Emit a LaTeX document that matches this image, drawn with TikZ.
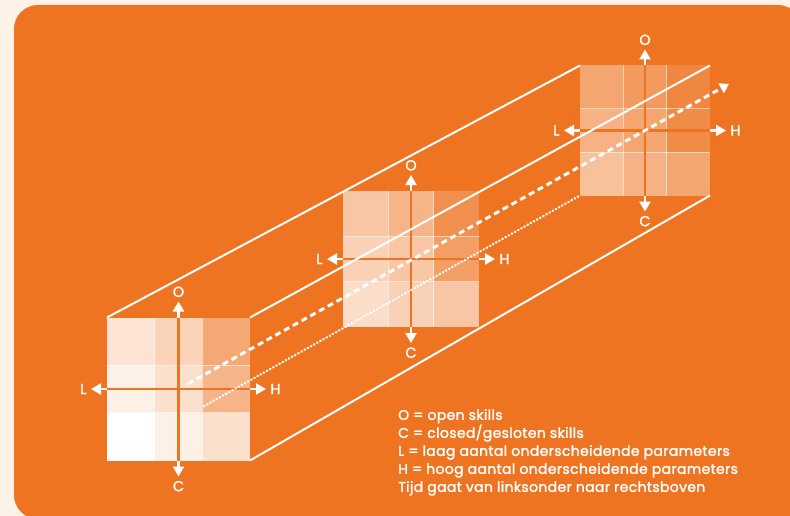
\documentclass[tikz,border=0pt]{standalone}
\usepackage{fontspec}
\setmainfont{Poppins}[FakeBold=1.8, LetterSpace=2.5]
\usepackage{tikz}
\usetikzlibrary{arrows.meta, positioning, calc}
\definecolor{skillOrange}{HTML}{EE7421}
\definecolor{paperCream}{HTML}{FCF2E8}
\tikzset{
    gridBox/.style={rectangle, inner sep=0pt, outer sep=0pt},
    gridLine/.style={white, opacity=0.55, line width=0.8pt},
    axisArrow/.style={-{Triangle[length=10pt, width=11pt]}, white, line width=2.4pt},
    axisIn/.style={skillOrange, line width=2.4pt},
    axLbl/.style={text=white, inner sep=0pt, outer sep=4.5pt, font=\fontsize{14.5}{14.5}\selectfont},
    boxEdge/.style={white, line width=2pt},
    hiddenEdge/.style={white, line width=2.3pt, line cap=round, dash pattern=on 0.6pt off 3pt},
    timeLine/.style={white, line width=3pt, dash pattern=on 6pt off 4pt},
    legend/.style={text=white, align=left, inner sep=0pt, font=\fontsize{14}{18}\selectfont}
}

% one O/C/L/H square: name, centre, size, shades of the nine cells (top row first)
\newcommand{\skillgrid}[4]{%
    \node[gridBox, minimum size=#3] (#1) at (#2) {};
    \foreach \p [count=\k from 0] in {#4} {
        \pgfmathsetmacro{\gx}{mod(\k,3)*#3/3}
        \pgfmathsetmacro{\gy}{int(\k/3)*#3/3}
        \fill[skillOrange!\p!white] ([shift={(\gx,\gy)}]#1.north west) rectangle ++(#3/3,#3/3);
    }
    \foreach \t in {1,2} {
        \draw[gridLine] ([xshift=\t*#3/3]#1.north west) -- ([xshift=\t*#3/3]#1.south west);
        \draw[gridLine] ([yshift=-\t*#3/3]#1.north west) -- ([yshift=-\t*#3/3]#1.north east);
    }
}
\newcommand{\skillaxes}[1]{%
    \node[axLbl, above=16pt of #1.north] (#1O) {O};
    \node[axLbl, below=16pt of #1.south] (#1C) {C};
    \node[axLbl, left=16pt of #1.west] (#1L) {L};
    \node[axLbl, right=16pt of #1.east] (#1H) {H};
    \draw[axisArrow] (#1.center) -- (#1O);
    \draw[axisArrow] (#1.center) -- (#1C);
    \draw[axisArrow] (#1.center) -- (#1L);
    \draw[axisArrow] (#1.center) -- (#1H);
    \draw[axisIn] (#1.north) -- (#1.south);
    \draw[axisIn] (#1.west) -- (#1.east);
}

\begin{document}
\begin{tikzpicture}[x=1pt, y=-1pt]
    \useasboundingbox (0,0) rectangle (790,516);
    \fill[paperCream] (0,0) rectangle (790,516);
    \fill[skillOrange, rounded corners=24pt] (14,5) rectangle (802,519);

    \skillgrid{b}{645,130.5}{130}{64,72,86, 55,64,83, 45,55,64}
    \skillgrid{m}{411,259}{136}{41,53,80, 33,41,70, 24,33,41}
    \skillgrid{f}{178.5,389}{143}{20,32,63, 11,22,53, 0,11,22}
    \skillaxes{b}
    \skillaxes{m}
    \skillaxes{f}

    \draw[boxEdge] (f.north west) -- (b.north west);
    \draw[boxEdge] (f.north east) -- (b.north east);
    \draw[boxEdge] (f.south east) -- (b.south east);

    \coordinate (hidStart) at ($(f.south west)!0.205!(b.south west)$);
    \draw[hiddenEdge] (hidStart) -- (b.south west);

    \coordinate (timeStart) at ($(f.center)!0.02!(b.center)$);
    \coordinate (timeEnd) at ($(f.center)!1.18!(b.center)$);
    \draw[timeLine, -{Triangle[length=9pt, width=11pt]}] (timeStart) -- (timeEnd);

    \node[legend, anchor=north west] (key) at (398,409) {O = open skills\\C = closed/gesloten skills\\L = laag aantal onderscheidende parameters\\H = hoog aantal onderscheidende parameters\\Tijd gaat van linksonder naar rechtsboven};
\end{tikzpicture}
\end{document}
